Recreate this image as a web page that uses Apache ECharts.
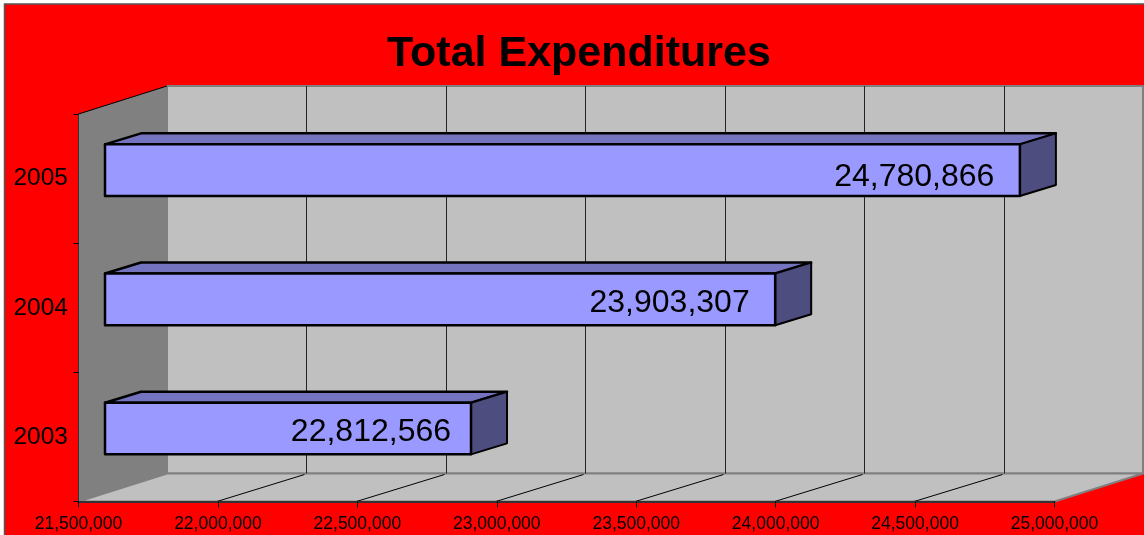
<!DOCTYPE html>
<html>
<head>
<meta charset="utf-8">
<title>Total Expenditures</title>
<script src="https://cdn.jsdelivr.net/npm/echarts@6/dist/echarts.min.js"></script>
<style>
  html, body { margin: 0; padding: 0; background: #ffffff; }
  #main { width: 1144px; height: 535px; }
</style>
</head>
<body>
<div id="main"></div>
<script>
const years = ['2003', '2004', '2005']
const expenditures = [22812566, 23903307, 24780866]
const xTicks = [21500000, 22000000, 22500000, 23000000, 23500000, 24000000, 24500000, 25000000]

const fontName = '"Liberation Sans", Arial, sans-serif'
// fake 3d offsets, in px
const wallDx = 88.5
const wallDy = 28
const barShiftX = 26.5
const barShiftY = 8.4
const barDx = 36
const barDy = 11

const poly = (points, fill, stroke, lineWidth) => ({
  type: 'polygon',
  shape: { points },
  style: { fill, stroke, lineWidth, lineJoin: 'round' }
})
const line = (x1, y1, x2, y2, stroke, lineWidth) => ({
  type: 'line',
  shape: { x1, y1, x2, y2 },
  style: { stroke, lineWidth }
})

const renderWalls = (params) => {
  const c = params.coordSys
  const l = c.x
  const r = c.x + c.width
  const t = c.y
  const b = c.y + c.height
  return {
    type: 'group',
    children: [
      // back wall
      poly([[l + wallDx, t - wallDy], [r + wallDx, t - wallDy], [r + wallDx, b - wallDy], [l + wallDx, b - wallDy]], '#c0c0c0', '#808080', 2),
      // floor
      poly([[l, b], [r, b], [r + wallDx, b - wallDy], [l + wallDx, b - wallDy]], '#c0c0c0', '#808080', 2),
      // left side wall
      poly([[l, t], [l + wallDx, t - wallDy], [l + wallDx, b - wallDy], [l, b]], '#808080', 'none', 0),
      line(l, t, l + wallDx, t - wallDy, '#000000', 1)
    ]
  }
}

const renderGridLine = (params, api) => {
  const c = params.coordSys
  const x = api.coord([api.value(0), 0])[0]
  const b = c.y + c.height
  const children = []
  if (api.value(0) === xTicks[0] || api.value(0) === xTicks[xTicks.length - 1]) {
    return { type: 'group', children }
  }
  // snap so the wall line stays crisp
  const wallX = Math.round(x + wallDx) + 0.5
  children.push(line(wallX, c.y - wallDy, wallX, b - wallDy, '#222222', 1))
  children.push(line(x - 1, b, wallX - 2, b - wallDy + 1, '#000000', 1))
  return { type: 'group', children }
}

// the value labels do not sit quite the same on each bar
const labelNudgeX = [5.5, 0, 0]
const labelNudgeY = [3, 3, 6]

const renderBar = (params, api) => {
  const c = params.coordSys
  const idx = api.value(1)
  const end = api.coord([api.value(0), idx])
  const h = api.size([0, 1])[1] * 0.4
  const x0 = c.x + barShiftX
  const x1 = end[0] + barShiftX
  const y0 = end[1] - barShiftY - h / 2
  const y1 = y0 + h
  return {
    type: 'group',
    children: [
      poly([[x0, y0], [x0 + barDx, y0 - barDy], [x1 + barDx, y0 - barDy], [x1, y0]], '#7373bf', '#000000', 2.5),
      poly([[x1, y0], [x1 + barDx, y0 - barDy], [x1 + barDx, y1 - barDy], [x1, y1]], '#4d4d80', '#000000', 2),
      poly([[x0, y0], [x1, y0], [x1, y1], [x0, y1]], '#9999ff', '#000000', 2.5),
      {
        type: 'text',
        style: {
          x: end[0] + 1 + labelNudgeX[idx],
          y: (y0 + y1) / 2 + 1 + labelNudgeY[idx],
          text: api.value(0).toLocaleString('en-US'),
          fill: '#000000',
          font: '32px ' + fontName,
          align: 'right',
          verticalAlign: 'middle'
        }
      }
    ]
  }
}

const myChart = echarts.init(document.getElementById('main'), null, { renderer: 'canvas' })
const option = {
  animation: false,
  backgroundColor: '#ffffff',
  textStyle: { fontFamily: fontName },
  title: {
    text: 'Total Expenditures',
    left: 382,
    top: 28,
    textStyle: { fontFamily: fontName, fontSize: 43, fontWeight: 'bold', color: '#000000' }
  },
  graphic: [
    {
      type: 'rect',
      z: -10,
      shape: { x: 4.5, y: 4, width: 1145, height: 540 },
      style: { fill: '#ff0000', stroke: '#555555', lineWidth: 1.5 }
    }
  ],
  grid: { left: 78.5, top: 114, width: 976, height: 387.5 },
  xAxis: {
    type: 'value',
    min: xTicks[0],
    max: xTicks[xTicks.length - 1],
    interval: 500000,
    z: 5,
    splitLine: { show: false },
    axisLine: { show: true, lineStyle: { color: '#333333', width: 2 } },
    axisTick: { show: true, length: 6, lineStyle: { color: '#000000', width: 1 } },
    axisLabel: {
      margin: 14,
      fontSize: 17.5,
      color: '#000000',
      fontFamily: fontName,
      formatter: (v) => v.toLocaleString('en-US')
    }
  },
  yAxis: {
    type: 'category',
    data: years,
    z: 5,
    axisLine: { show: true, lineStyle: { color: '#333333', width: 1 } },
    axisTick: { show: true, length: 5, lineStyle: { color: '#000000', width: 1 } },
    axisLabel: {
      margin: 10.5,
      fontSize: 24.5,
      color: '#000000',
      fontFamily: fontName,
      padding: [0, 0, 7, 0]
    }
  },
  series: [
    { type: 'custom', silent: true, z: 1, renderItem: renderWalls, data: [[xTicks[0], 0]], encode: { x: 0, y: 1 } },
    { type: 'custom', silent: true, z: 2, renderItem: renderGridLine, data: xTicks.map((v) => [v, 0]), encode: { x: 0, y: 1 } },
    { type: 'custom', silent: true, z: 3, renderItem: renderBar, data: expenditures.map((v, i) => [v, i]), encode: { x: 0, y: 1 } }
  ]
}
myChart.setOption(option, true)
addEventListener('resize', () => {
  myChart.resize()
})
</script>
</body>
</html>
